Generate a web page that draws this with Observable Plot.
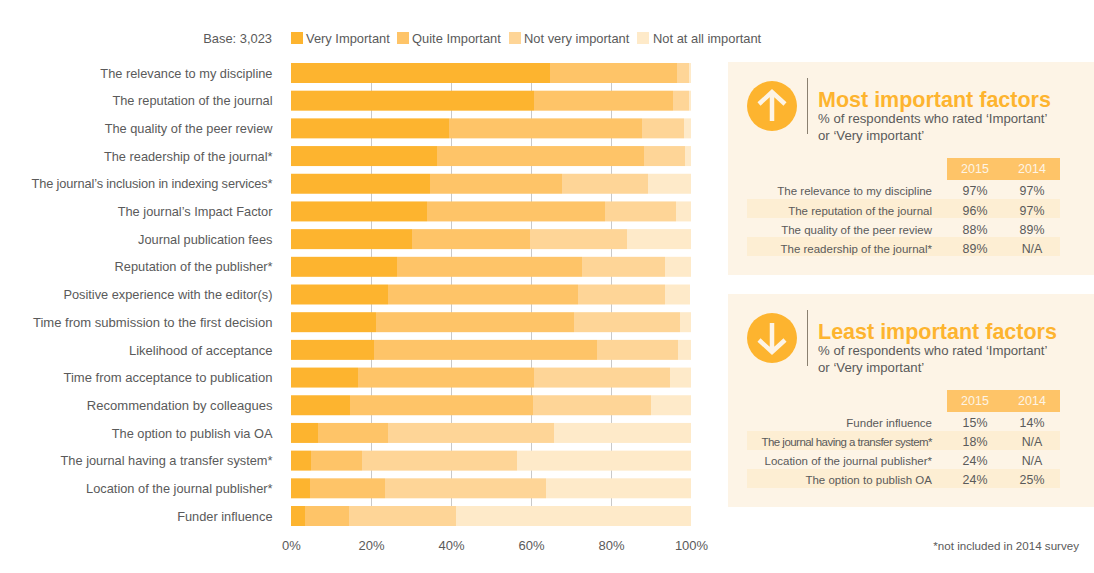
<!DOCTYPE html>
<html>
<head>
<meta charset="utf-8">
<script src="https://cdn.jsdelivr.net/npm/d3@7"></script>
<script src="https://cdn.jsdelivr.net/npm/@observablehq/plot@0.6"></script>
<style>
html,body{margin:0;padding:0;background:#fff;}
body{width:1094px;height:573px;overflow:hidden;font-family:"Liberation Sans",sans-serif;color:#5a5a5a;}
#wrap{position:relative;width:1094px;height:573px;}
#chart{position:absolute;left:0;top:0;}
#chart svg{display:block;background:transparent;}
.abs{position:absolute;white-space:nowrap;}
.lg{font-size:12.9px;line-height:16px;top:31px;}
.sw{position:absolute;top:32px;width:12px;height:12px;}
.panel{position:absolute;left:728px;width:366px;height:213px;background:#fdf4e6;}
.ic{position:absolute;left:19px;top:19px;width:50px;height:50px;}
.dv{position:absolute;left:79px;top:16px;width:1px;height:56px;background:#8a8070;}
.ttl{position:absolute;left:90px;top:25.5px;font-size:21.5px;line-height:24px;font-weight:bold;color:#fdb42f;white-space:nowrap;}
.sub{position:absolute;left:90px;top:47.5px;font-size:13.2px;line-height:17px;white-space:pre;}
.hd{position:absolute;left:219px;top:96px;width:113px;height:22px;background:#fec468;}
.hd span{position:absolute;top:3px;font-size:12.5px;line-height:16px;color:#fdf4e6;width:56px;text-align:center;}
.row{position:absolute;left:19px;width:313px;height:19px;font-size:11.5px;line-height:25px;}
.row.st{background:#fdeed3;}
.row .l{position:absolute;right:128px;white-space:nowrap;}
.row .a,.row .b{position:absolute;width:56px;text-align:center;font-size:12.4px;}
.row .a{left:200px;}
.row .b{left:257px;}
</style>
</head>
<body>
<div id="wrap"><div id="chart"></div></div>
<script>
const factors = [
  "The relevance to my discipline","The reputation of the journal","The quality of the peer review",
  "The readership of the journal*","The journal’s inclusion in indexing services*","The journal’s Impact Factor",
  "Journal publication fees","Reputation of the publisher*","Positive experience with the editor(s)",
  "Time from submission to the first decision","Likelihood of acceptance","Time from acceptance to publication",
  "Recommendation by colleagues","The option to publish via OA","The journal having a transfer system*",
  "Location of the journal publisher*","Funder influence"
];
const levels = ["Very Important","Quite Important","Not very important","Not at all important"];
const levelColors = ["#fdb42f","#fec468","#fed597","#feeac9"];
const veryImportant  = [64.75,60.75,39.5,36.5,34.75,34,30.25,26.5,24.25,21.25,20.75,16.75,14.75,6.75,5,4.75,3.5];
const quiteImportant = [31.75,34.75,48.25,51.75,33,44.5,29.5,46.25,47.5,49.5,55.75,44,45.75,17.5,12.75,18.75,11];
const notVery        = [3,4,10.5,10.25,21.5,17.75,24.25,20.75,21.75,26.5,20.25,34,29.5,41.5,38.75,40.25,26.75];
const notAtAll       = [0.5,0.5,1.75,1.5,10.75,3.75,16,6.5,6.25,2.75,3.25,5.25,10,34.25,43.5,36.25,58.75];
const xTicks = [0,20,40,60,80,100];
const gridTicks = [20,40,60,80];
const baseLabel = "Base: 3,023";
const footnote = "*not included in 2014 survey";
const subtitle = "% of respondents who rated ‘Important’\nor ‘Very important’";
const years = ["2015","2014"];
const mostTitle = "Most important factors";
const mostRows = [
  ["The relevance to my discipline","97%","97%"],
  ["The reputation of the journal","96%","97%"],
  ["The quality of the peer review","88%","89%"],
  ["The readership of the journal*","89%","N/A"]
];
const leastTitle = "Least important factors";
const leastRows = [
  ["Funder influence","15%","14%"],
  ["The journal having a transfer system*","18%","N/A"],
  ["Location of the journal publisher*","24%","N/A"],
  ["The option to publish OA","24%","25%"]
];

const series = [veryImportant, quiteImportant, notVery, notAtAll];
const table = levels.flatMap((level, i) => factors.map((factor, j) => ({factor, level, value: series[i][j]})));

const plot = Plot.plot({
  width: 1094, height: 573,
  marginLeft: 291, marginRight: 403, marginTop: 63, marginBottom: 47,
  style: {background: "transparent", fontFamily: "Liberation Sans, sans-serif", fontSize: "12.8px", color: "#5a5a5a"},
  x: {domain: [0, 100], label: null},
  y: {domain: factors, label: null, paddingInner: 0.278, paddingOuter: 0, round: false},
  color: {domain: levels, range: levelColors},
  marks: [
    Plot.gridX(gridTicks, {stroke: "#c9c9c9", strokeOpacity: 1, strokeWidth: 1}),
    Plot.barX(table, Plot.stackX({x: "value", y: "factor", fill: "level"})),
    Plot.axisY({tickSize: 0, tickPadding: 19, label: null, fontSize: 12.8, fill: "#5a5a5a"}),
    Plot.axisX({ticks: xTicks, tickFormat: d => d + "%", tickSize: 0, tickPadding: 14, label: null, fontSize: 13, fill: "#5a5a5a"})
  ]
});
document.getElementById("chart").appendChild(plot);
// the long label is set tighter in the reference, the four middle ones a little larger
d3.select(plot).selectAll("text").filter(function () { return this.textContent === factors[4]; })
  .attr("textLength", 241).attr("lengthAdjust", "spacing");
const slightlyLarger = [factors[9], factors[10], factors[11], factors[12]];
d3.select(plot).selectAll("text").filter(function () { return slightlyLarger.includes(this.textContent); })
  .style("font-size", "13.05px");

const wrap = document.getElementById("wrap");
function add(parent, cls, text, css) {
  const e = document.createElement("div");
  e.className = cls;
  if (text != null) e.textContent = text;
  if (css) e.style.cssText = css;
  parent.appendChild(e);
  return e;
}
add(wrap, "abs lg", baseLabel, "right:822px;");
const swatchX = [291, 397, 509, 637];
const labelX = [306, 412, 524, 653];
levels.forEach((l, i) => {
  add(wrap, "sw", null, `left:${swatchX[i]}px;background:${levelColors[i]};`);
  add(wrap, "abs lg", l, `left:${labelX[i]}px;`);
});
add(wrap, "abs", footnote, "right:15px;top:539px;font-size:11.6px;line-height:14px;");

function icon(up) {
  const arrow = up ? "M25 40V11M12 23L25 11L38 23" : "M25 10V39M12 27L25 39L38 27";
  return `<svg width="50" height="50" viewBox="0 0 50 50" style="display:block"><circle cx="25" cy="25" r="25" fill="#fdb42f"/><path d="${arrow}" fill="none" stroke="#fdf4e6" stroke-width="4.5"/></svg>`;
}
function panel(top, up, title, rows, rowTops, rowLine) {
  const p = add(wrap, "panel", null, `top:${top}px;`);
  add(p, "ic").innerHTML = icon(up);
  add(p, "dv");
  add(p, "ttl", title);
  add(p, "sub", subtitle);
  const h = add(p, "hd");
  years.forEach((y, i) => {
    const s = document.createElement("span");
    s.textContent = y;
    s.style.left = (i ? 57 : 0) + "px";
    h.appendChild(s);
  });
  rows.forEach((r, i) => {
    const row = add(p, "row" + (i % 2 ? " st" : ""), null, `top:${rowTops[i]}px;line-height:${rowLine}px;`);
    const l = add(row, "l", r[0]);
    if (l.offsetWidth > 172) l.style.letterSpacing = ((170 - l.offsetWidth) / r[0].length) + "px";
    add(row, "a", r[1]);
    add(row, "b", r[2]);
  });
}
panel(62, true, mostTitle, mostRows, [117, 137, 156, 175], 25);
panel(294, false, leastTitle, leastRows, [118, 137, 156, 175], 23);
</script>
</body>
</html>
